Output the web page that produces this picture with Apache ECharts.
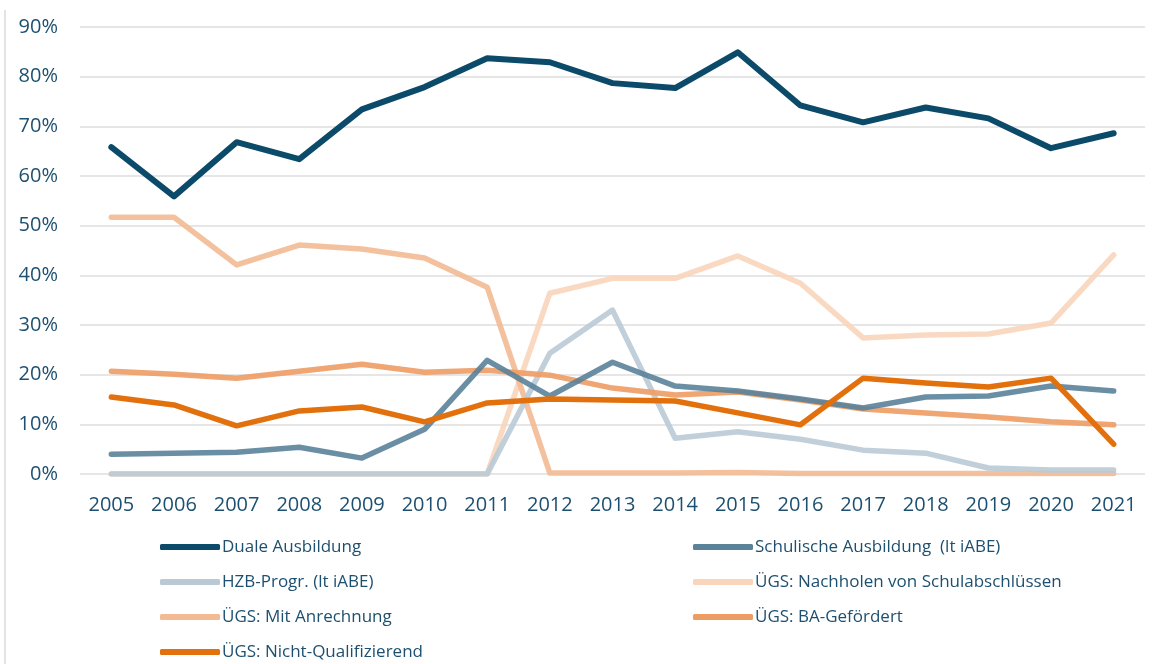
<!DOCTYPE html>
<html>
<head>
<meta charset="utf-8">
<script src="https://cdn.jsdelivr.net/npm/echarts@6/dist/echarts.min.js"></script>
<style>
  html, body { margin: 0; padding: 0; background: #fff; }
  #main { width: 1171px; height: 664px; }
</style>
</head>
<body>
<div id="main"></div>
<script>
let years = ['2005', '2006', '2007', '2008', '2009', '2010', '2011', '2012', '2013', '2014', '2015', '2016', '2017', '2018', '2019', '2020', '2021'];

let duale = [65.8, 55.9, 66.8, 63.4, 73.4, 77.9, 83.7, 82.9, 78.7, 77.7, 84.9, 74.2, 70.8, 73.8, 71.6, 65.6, 68.6];
let schulisch = [4.0, 4.2, 4.4, 5.4, 3.2, 9.0, 22.9, 15.7, 22.5, 17.7, 16.7, 15.1, 13.3, 15.5, 15.7, 17.7, 16.7];
let hzb = [0, 0, 0, 0, 0, 0, 0, 24.3, 33.0, 7.2, 8.5, 7.0, 4.8, 4.2, 1.2, 0.8, 0.8];
let nachholen = [0, 0, 0, 0, 0, 0, 0, 36.4, 39.4, 39.4, 43.9, 38.4, 27.4, 28.0, 28.2, 30.4, 44.1];
let anrechnung = [51.7, 51.7, 42.1, 46.1, 45.3, 43.5, 37.6, 0.2, 0.2, 0.2, 0.3, 0.1, 0.1, 0.1, 0.1, 0.1, 0.1];
let baGefoerdert = [20.7, 20.1, 19.3, 20.7, 22.1, 20.5, 20.9, 19.9, 17.3, 15.9, 16.5, 14.9, 13.1, 12.3, 11.5, 10.5, 9.9];
let nichtQuali = [15.5, 13.9, 9.7, 12.7, 13.5, 10.5, 14.3, 15.1, 14.9, 14.7, 12.3, 9.9, 19.3, 18.3, 17.5, 19.3, 6.0];

let names = [
  'Duale Ausbildung',
  'Schulische Ausbildung  (lt iABE)',
  'HZB-Progr. (lt iABE)',
  'ÜGS: Nachholen von Schulabschlüssen',
  'ÜGS: Mit Anrechnung',
  'ÜGS: BA-Gefördert',
  'ÜGS: Nicht-Qualifizierend'
];
let colors = ['#0c4a6a', '#5a8299', '#b9cad5', '#f9d5bd', '#f3ba93', '#ed9c64', '#e2700c'];
let values = [duale, schulisch, hzb, nachholen, anrechnung, baGefoerdert, nichtQuali];

let textColor = '#1d5070';
let font = 'Open Sans';

let chart = echarts.init(document.getElementById('main'));

// draw order: light lines first so dark ones sit on top
let order = [3, 4, 2, 5, 1, 6, 0];
let series = order.map(i => ({
  name: names[i],
  type: 'line',
  data: values[i],
  symbol: 'none',
  z: 2 + order.indexOf(i),
  lineStyle: { color: colors[i], width: i == 0 ? 6 : 5.5, opacity: (i == 0 || i == 6) ? 1 : 0.9, cap: 'round', join: 'round' },
  itemStyle: { color: colors[i] }
}));

// one small legend per entry, two columns like the original
let legendRows = [547, 582, 617, 652];
let legends = names.map((name, i) => ({
  data: [name],
  left: i % 2 == 0 ? 160 : 693,
  top: legendRows[Math.floor(i / 2)] - 9,
  padding: 0,
  icon: 'roundRect',
  itemWidth: 60,
  itemHeight: 6,
  selectedMode: false,
  textStyle: { color: textColor, fontSize: 17, lineHeight: 18, fontFamily: font, padding: [0, 0, 0, -3] }
}));

let option = {
  backgroundColor: '#fff',
  color: colors,
  grid: { left: 80, right: 26, top: 27, bottom: 190 },
  legend: legends,
  xAxis: {
    type: 'category',
    data: years,
    axisLine: { show: false },
    axisTick: { show: false },
    axisLabel: { color: textColor, fontSize: 20, fontFamily: font, margin: 21 }
  },
  yAxis: {
    type: 'value',
    min: 0,
    max: 90,
    interval: 10,
    axisLabel: { formatter: '{value}%', color: textColor, fontSize: 20, fontFamily: font, margin: 22 },
    splitLine: { lineStyle: { color: '#e6e6e6', width: 2 } }
  },
  graphic: [{
    type: 'line',
    shape: { x1: 5, y1: 10, x2: 5, y2: 664 },
    style: { stroke: '#e3e3e3', lineWidth: 2 }
  }],
  series: series
};

chart.setOption(option);
</script>
</body>
</html>
